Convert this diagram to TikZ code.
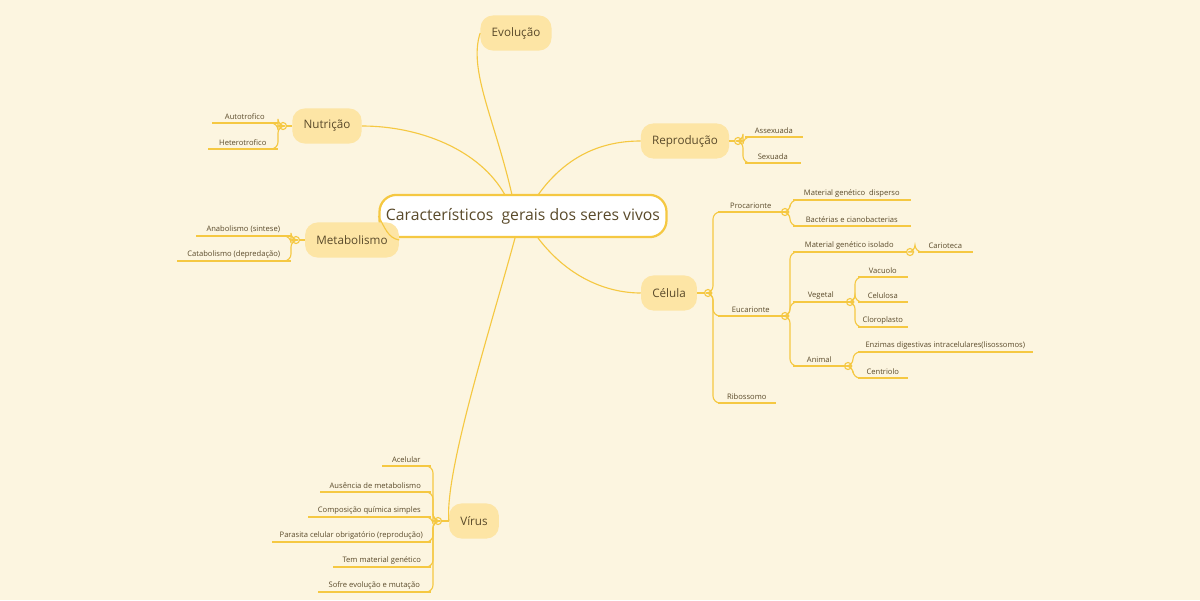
\documentclass[tikz,border=0pt]{standalone}
\usepackage{fontspec}
\setmainfont{Open Sans}
\definecolor{bgc}{HTML}{FCF5E0}
\definecolor{linec}{HTML}{F5C842}
\definecolor{boxc}{HTML}{FDE5A5}
\definecolor{textc}{HTML}{5A4A2A}
\tikzset{
    branch/.style={fill=boxc, rounded corners=9pt, text=textc, font=\fontsize{8.3}{10}\selectfont, inner xsep=8pt, minimum height=25pt},
    leaf/.style={text=textc, font=\fontsize{5.4}{6}\selectfont, inner xsep=0pt, inner ysep=2pt, anchor=south west},
    knot/.style={circle, draw=linec, fill=bgc, line width=0.8pt, inner sep=0pt, minimum size=5pt},
    link/.style={draw=linec, line width=0.8pt, rounded corners=5pt},
}
% #1 name, #2 x start, #3 x end, #4 y of underline, #5 text
\newcommand\leaf[5]{
    \node[leaf, minimum width={(#3-#2)*0.025cm}] (#1) at (#2,#4) {#5};
    \draw[link] (#1.south west) -- (#1.south east);
}
\newcommand\twig[2]{
    \draw[link] (#1) -- ++(5,0) |- (#2.south west);
}
\newcommand\twigl[2]{
    \draw[link] (#1) -- ++(-5,0) |- (#2.south east);
}
\begin{document}
\begin{tikzpicture}[x=0.025cm, y=-0.025cm]
    \fill[bgc] (0,0) rectangle (1200,600);
    \useasboundingbox (0,0) rectangle (1200,600);

    % branches
    \node[draw=linec, line width=1.6pt, fill=white, rounded corners=12pt, text=textc,
          font=\fontsize{11.2}{13}\selectfont, minimum width={287*0.025cm}, minimum height=30pt] (center) at (523,216) {Característicos\ \ gerais dos seres vivos};
    \node[branch] (evo) at (516,33) {Evolução};
    \node[branch] (repro) at (685,141) {Reprodução};
    \node[branch] (cel) at (669,293) {Célula};
    \node[branch] (nutri) at (327,126) {Nutrição};
    \node[branch] (metab) at (352,240) {Metabolismo};
    \node[branch] (virus) at (474,521) {Vírus};

    \draw[link] (512,195) .. controls (495,120) and (468,70) .. (evo.west);
    \draw[link] (505,195) .. controls (480,150) and (420,126) .. (nutri.east);
    \draw[link] (538,195) .. controls (570,150) and (610,141) .. (repro.west);
    \draw[link] (metab.east) .. controls (388,238) and (385,228) .. (center.west);
    \draw[link] (538,238) .. controls (570,280) and (610,293) .. (cel.west);
    \draw[link] (515,238) .. controls (490,330) and (445,470) .. (virus.west);

    % knots
    \node[knot] (kRepro) at (738,141) {};
    \node[knot] (kCel) at (708,293) {};
    \node[knot] (kProc) at (785,212) {};
    \node[knot] (kEuc) at (785,316) {};
    \node[knot] (kIso) at (910,252) {};
    \node[knot] (kVeg) at (850,302) {};
    \node[knot] (kAni) at (848,366) {};
    \node[knot] (kNutri) at (283,126) {};
    \node[knot] (kMetab) at (296,240) {};
    \node[knot] (kVirus) at (438,521) {};
    \draw[link] (repro) -- (kRepro);
    \draw[link] (cel) -- (kCel);
    \draw[link] (nutri) -- (kNutri);
    \draw[link] (metab) -- (kMetab);
    \draw[link] (virus) -- (kVirus);

    % Reprodução
    \leaf{assex}{745}{802}{137}{Assexuada}
    \leaf{sex}{745}{800}{163}{Sexuada}
    \twig{kRepro}{assex}
    \twig{kRepro}{sex}

    % Célula
    \leaf{proc}{718}{783}{212}{Procarionte}
    \leaf{euc}{718}{783}{316}{Eucarionte}
    \leaf{ribo}{718}{775}{403}{Ribossomo}
    \twig{kCel}{proc}
    \twig{kCel}{euc}
    \twig{kCel}{ribo}
    \leaf{disp}{793}{910}{200}{Material genético\ \ disperso}
    \leaf{bact}{793}{910}{226}{Bactérias e cianobacterias}
    \twig{kProc}{disp}
    \twig{kProc}{bact}
    \leaf{iso}{793}{905}{252}{Material genético isolado}
    \leaf{veg}{793}{848}{302}{Vegetal}
    \leaf{ani}{793}{845}{366}{Animal}
    \twig{kEuc}{iso}
    \twig{kEuc}{veg}
    \twig{kEuc}{ani}
    \leaf{cario}{918}{972}{252}{Carioteca}
    \twig{kIso}{cario}
    \leaf{vac}{858}{907}{277}{Vacuolo}
    \leaf{celu}{858}{907}{302}{Celulosa}
    \leaf{clor}{858}{907}{327}{Cloroplasto}
    \twig{kVeg}{vac}
    \twig{kVeg}{celu}
    \twig{kVeg}{clor}
    \leaf{enz}{858}{1032}{352}{Enzimas digestivas intracelulares(lisossomos)}
    \leaf{cent}{858}{907}{378}{Centriolo}
    \twig{kAni}{enz}
    \twig{kAni}{cent}

    % Nutrição
    \leaf{auto}{212}{277}{123}{Autotrofico}
    \leaf{hete}{208}{277}{149}{Heterotrofico}
    \twigl{kNutri}{auto}
    \twigl{kNutri}{hete}

    % Metabolismo
    \leaf{anab}{196}{290}{236}{Anabolismo (sintese)}
    \leaf{catab}{177}{290}{261}{Catabolismo (depredação)}
    \twigl{kMetab}{anab}
    \twigl{kMetab}{catab}

    % Vírus
    \leaf{v1}{382}{430}{466}{Acelular}
    \leaf{v2}{320}{430}{492}{Ausência de metabolismo}
    \leaf{v3}{308}{430}{517}{Composição química simples}
    \leaf{v4}{272}{430}{542}{Parasita celular obrigatório (reprodução)}
    \leaf{v5}{333}{430}{567}{Tem material genético}
    \leaf{v6}{318}{430}{592}{Sofre evolução e mutação}
    \foreach \v in {v1,v2,v3,v4,v5,v6}{
        \twigl{kVirus}{\v}
    }
\end{tikzpicture}
\end{document}
